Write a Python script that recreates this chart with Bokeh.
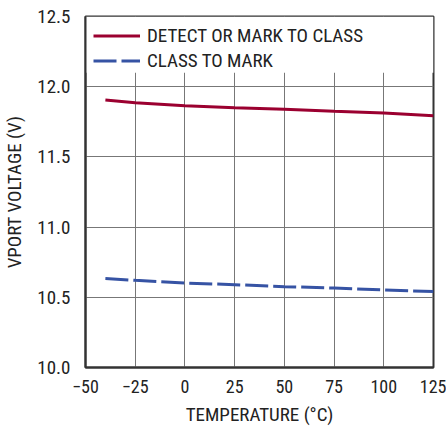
from bokeh.plotting import figure
from bokeh.models import Range1d, Legend, LegendItem, BoxAnnotation, Label, FixedTicker, CustomJSTickFormatter
from bokeh.embed import file_html
from bokeh.resources import INLINE

temps = [-40, -25, 0, 25, 50, 75, 100, 125]
detect_to_class = [11.905, 11.885, 11.865, 11.85, 11.84, 11.825, 11.812, 11.793]
class_to_mark = [10.634, 10.621, 10.602, 10.59, 10.576, 10.566, 10.552, 10.541]
x_ticks = [-50, -25, 0, 25, 50, 75, 100, 125]
y_ticks = [10.0, 10.5, 11.0, 11.5, 12.0, 12.5]

FONT = "Roboto Condensed"

p = figure(width=446, height=433, output_backend="svg", toolbar_location=None,
           x_range=Range1d(-50, 125), y_range=Range1d(10.0, 12.5),
           min_border_left=80, min_border_right=13, min_border_top=16, min_border_bottom=66)
p.outline_line_color = "#333333"
p.outline_line_width = 2
p.background_fill_color = "white"

for ax in (p.xaxis[0], p.yaxis[0]):
    ax.axis_line_color = "#333333"
    ax.axis_line_width = 2
    ax.major_tick_line_color = None
    ax.minor_tick_line_color = None
    ax.major_label_text_font = FONT
    ax.major_label_text_color = "#222222"
    ax.axis_label_text_font = FONT
    ax.axis_label_text_font_size = "19px"
    ax.axis_label_text_font_style = "normal"
    ax.axis_label_text_color = "#222222"

p.xaxis.major_label_text_font_size = "18px"
p.yaxis.major_label_text_font_size = "19px"
p.xaxis.ticker = FixedTicker(ticks=x_ticks)
p.yaxis.ticker = FixedTicker(ticks=y_ticks)
p.xaxis.major_label_overrides = {-50: "\u221250", -25: "\u221225"}
p.yaxis.formatter = CustomJSTickFormatter(code="return tick.toFixed(1);")
p.xaxis.axis_label = "TEMPERATURE (\u00b0C)"
p.yaxis.axis_label = "VPORT VOLTAGE (V)"
p.xaxis.major_label_standoff = 6
p.yaxis.major_label_standoff = 9
p.xaxis.axis_label_standoff = 7
p.yaxis.axis_label_standoff = 8

p.xgrid.ticker = FixedTicker(ticks=x_ticks)
p.ygrid.ticker = FixedTicker(ticks=y_ticks)
p.grid.grid_line_color = "#777777"
p.grid.grid_line_width = 1

r1 = p.line(temps, detect_to_class, line_color="#9B0030", line_width=3)
r2 = p.line(temps, class_to_mark, line_color="#3653A4", line_width=3, line_dash="23 5")

p.add_layout(BoxAnnotation(top=12.5, bottom=12.1, fill_color="white", fill_alpha=1.0,
                           line_color=None, level="underlay"))

legend = Legend(items=[LegendItem(label="DETECT OR MARK TO CLASS", renderers=[r1]),
                       LegendItem(label="CLASS TO MARK", renderers=[r2])],
                location="top_left", background_fill_alpha=0, border_line_color=None,
                label_text_font=FONT, label_text_font_size="19px", label_text_color="#222222",
                glyph_width=47, label_standoff=7, spacing=2, margin=8, padding=2,
                label_height=21, glyph_height=21)
p.add_layout(legend)

p.add_layout(Label(x=125, y=9.585, text="4293 G07", x_offset=2,
                   text_font=FONT, text_font_size="11px", text_align="right",
                   text_baseline="middle", text_color="#222222"))

open("out.html", "w").write(file_html(p, INLINE))
